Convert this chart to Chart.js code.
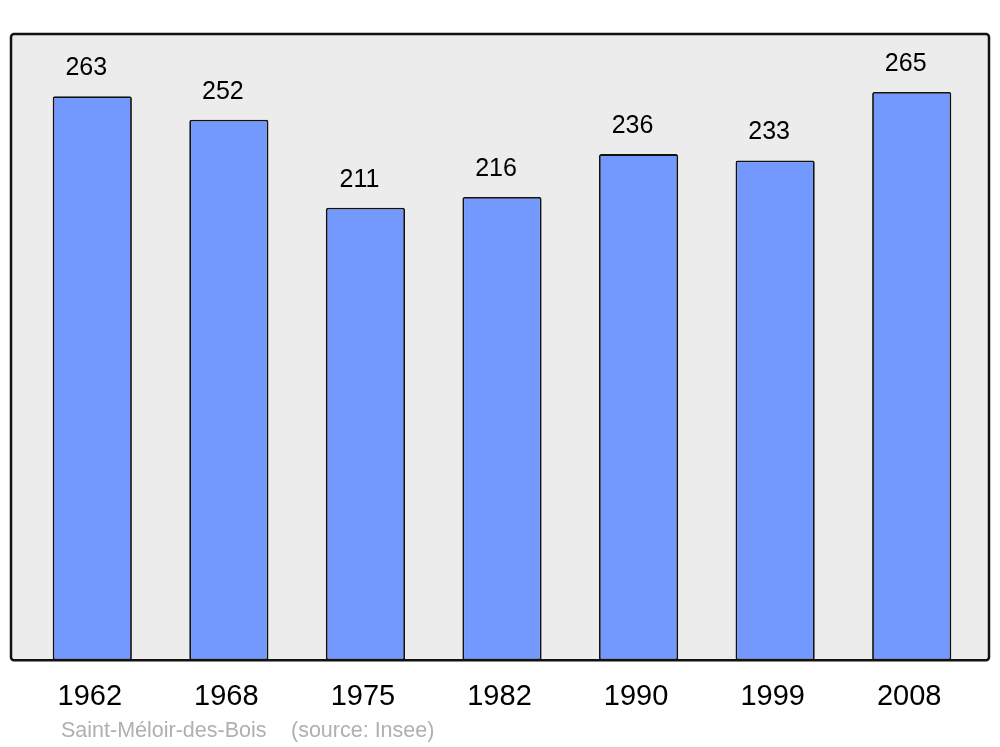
<!DOCTYPE html>
<html>
<head>
<meta charset="utf-8">
<script src="https://cdn.jsdelivr.net/npm/chart.js@4"></script>
<style>
    html, body { margin: 0; padding: 0; background: #ffffff; }
    #wrap { width: 1000px; height: 747px; }
</style>
</head>
<body>
<div id="wrap"><canvas id="popChart" width="1000" height="747"></canvas></div>
<script>
const years = ['1962', '1968', '1975', '1982', '1990', '1999', '2008'];
const population = [263, 252, 211, 216, 236, 233, 265];
const footerText = ['Saint-Méloir-des-Bois', '(source: Insee)'];

const FONT = "'Liberation Sans', Arial, sans-serif";

// grey frame behind the bars
const framePlugin = {
    id: 'frame',
    beforeDraw(chart) {
        const { ctx, chartArea } = chart;
        const x = chartArea.left - 13;
        const y = chartArea.top;
        const w = chartArea.right + 9 - x;
        const h = chartArea.bottom - y;
        ctx.save();
        ctx.beginPath();
        ctx.roundRect(x, y, w, h, 3);
        ctx.fillStyle = '#ececec';
        ctx.fill();
        ctx.restore();
    },
    afterDatasetsDraw(chart) {
        const { ctx, chartArea } = chart;
        const x = chartArea.left - 13;
        const y = chartArea.top;
        const w = chartArea.right + 9 - x;
        const h = chartArea.bottom - y;
        ctx.save();
        ctx.beginPath();
        ctx.roundRect(x, y, w, h, 3);
        ctx.lineWidth = 2.5;
        ctx.strokeStyle = '#111111';
        ctx.stroke();
        ctx.restore();
    }
};

// numbers above each bar + source line
const labelPlugin = {
    id: 'labels',
    afterDraw(chart) {
        const { ctx } = chart;
        const meta = chart.getDatasetMeta(0);
        ctx.save();
        ctx.font = '25px ' + FONT;
        ctx.fillStyle = '#000000';
        ctx.textAlign = 'center';
        ctx.textBaseline = 'middle';
        meta.data.forEach((bar, i) => {
            ctx.fillText(String(population[i]), bar.x - 6, bar.y - 28);
        });

        ctx.font = '21.5px ' + FONT;
        ctx.fillStyle = '#b0b0b0';
        ctx.textAlign = 'left';
        ctx.fillText(footerText[0], 61, 731);
        ctx.fillText(footerText[1], 291, 731);
        ctx.restore();
    }
};

new Chart(document.getElementById('popChart'), {
    type: 'bar',
    data: {
        labels: years,
        datasets: [{
            data: population,
            backgroundColor: '#7399ff',
            borderColor: '#111111',
            borderWidth: 1.8,
            borderRadius: 2,
            borderSkipped: false,
            barPercentage: 0.58,
            categoryPercentage: 1.0
        }]
    },
    options: {
        responsive: false,
        animation: false,
        layout: {
            padding: { left: 24, right: 20, top: 34, bottom: 22 }
        },
        plugins: {
            legend: { display: false },
            tooltip: { enabled: false }
        },
        scales: {
            x: {
                grid: { display: false },
                border: { display: false },
                ticks: {
                    color: '#000000',
                    padding: 11,
                    labelOffset: -2.5,
                    font: { family: FONT, size: 29 }
                }
            },
            y: {
                display: false,
                min: 0,
                max: 292
            }
        }
    },
    plugins: [framePlugin, labelPlugin]
});
</script>
</body>
</html>
